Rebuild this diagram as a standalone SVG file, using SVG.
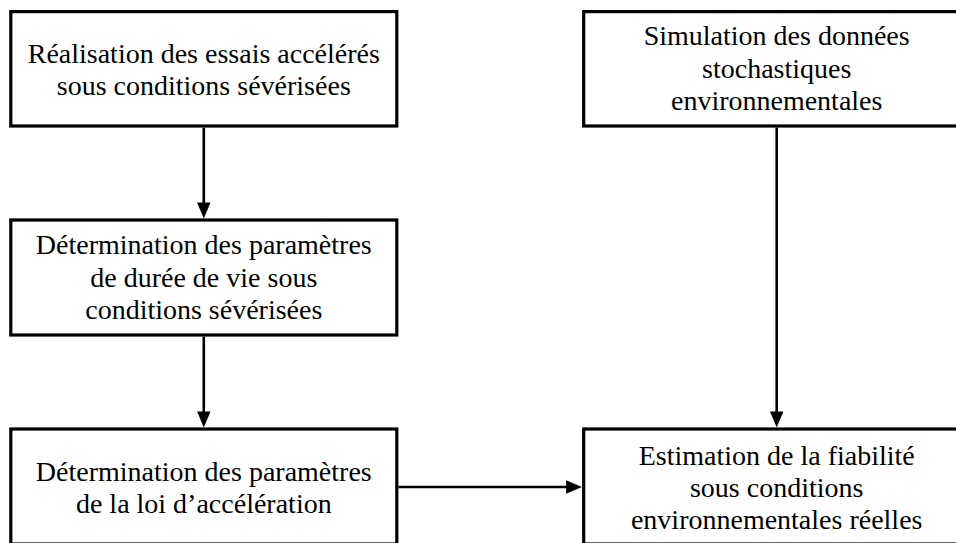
<svg xmlns="http://www.w3.org/2000/svg" width="956" height="543" viewBox="0 0 956 543">
<style>
.box{fill:#fff;stroke:#000;stroke-width:3.2}
text{font-family:'Liberation Serif','DejaVu Serif',serif;font-size:28px;fill:#000;text-anchor:middle}
.conn{stroke:#000;stroke-width:2.6;fill:none;marker-end:url(#ah)}
</style>
<defs>
<marker id="ah" markerUnits="userSpaceOnUse" markerWidth="16" markerHeight="14" refX="12" refY="6.75" orient="auto">
<path d="M0,0 L16,6.75 L0,13.5 Z" fill="#000"/>
</marker>
</defs>
<rect width="956" height="543" fill="#fff"/>
<g id="n1">
<rect class="box" x="10.8" y="11.6" width="386" height="114.4"/>
<text x="203.8" y="63">Réalisation des essais accélérés</text>
<text x="203.8" y="95">sous conditions sévérisées</text>
</g>
<g id="n2">
<rect class="box" x="10.8" y="220" width="386" height="115"/>
<text x="203.8" y="254">Détermination des paramètres</text>
<text x="203.8" y="286.5">de durée de vie sous</text>
<text x="203.8" y="319">conditions sévérisées</text>
</g>
<g id="n3">
<rect class="box" x="10.8" y="429" width="386" height="115"/>
<text x="203.8" y="481">Détermination des paramètres</text>
<text x="203.8" y="513">de la loi d’accélération</text>
</g>
<g id="n4">
<rect class="box" x="583.7" y="11.6" width="386" height="114.4"/>
<text x="776.7" y="45">Simulation des données</text>
<text x="776.7" y="77.5">stochastiques</text>
<text x="776.7" y="110">environnementales</text>
</g>
<g id="n5">
<rect class="box" x="583.7" y="429" width="386" height="115"/>
<text x="776.7" y="465">Estimation de la fiabilité</text>
<text x="776.7" y="497">sous conditions</text>
<text x="776.7" y="529">environnementales réelles</text>
</g>
<g id="connectors">
<line class="conn" x1="203.8" y1="127.6" x2="203.8" y2="214.4"/>
<line class="conn" x1="203.8" y1="336.6" x2="203.8" y2="423.4"/>
<line class="conn" x1="776.7" y1="127.6" x2="776.7" y2="423.4"/>
<line class="conn" x1="398.4" y1="487" x2="578.1" y2="487"/>
</g>
</svg>
